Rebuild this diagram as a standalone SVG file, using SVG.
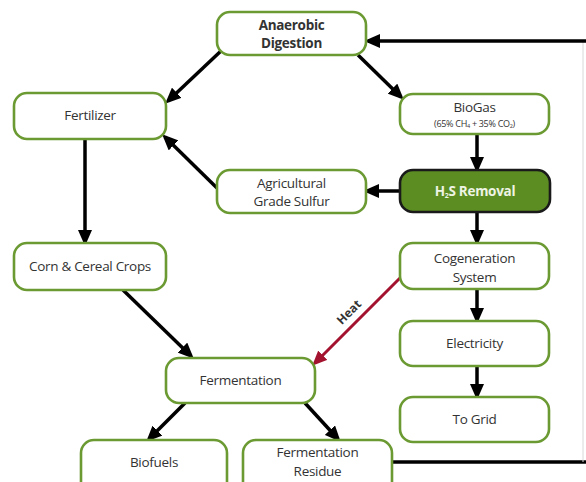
<svg xmlns="http://www.w3.org/2000/svg" width="586" height="482" viewBox="0 0 586 482">
<defs>
<style>
.n{fill:#fff;stroke:#6b9a33;stroke-width:2.6}
.t{font-family:"Open Sans","Noto Sans","Liberation Sans",sans-serif;font-size:13.5px;fill:#333;text-anchor:middle;letter-spacing:-0.3px}
.b{font-weight:bold}
.s{font-size:9px}
.c{fill:none;stroke:#000;stroke-width:3.5}
.a{marker-end:url(#ah)}
</style>
<marker id="ah" markerUnits="userSpaceOnUse" markerWidth="16" markerHeight="14" refX="12" refY="7" orient="auto" viewBox="0 0 16 14">
<path d="M0,0 L16,7 L0,14 z" fill="#000"/>
</marker>
<marker id="ahr" markerUnits="userSpaceOnUse" markerWidth="15" markerHeight="13" refX="11" refY="6.5" orient="auto" viewBox="0 0 15 13">
<path d="M0,0 L15,6.5 L0,13 z" fill="#a3122e"/>
</marker>
</defs>
<rect width="586" height="482" fill="#fff"/>
<g id="connectors">
<path class="c" d="M392 462 H586"/>
<path d="M583 41 V462" stroke="#d8d8d8" stroke-width="1" fill="none"/>
<path class="c a" d="M586 41 H368"/>
<path class="c a" d="M358 55 L401 97"/>
<path class="c a" d="M222 50 L168 101"/>
<path class="c a" d="M217 188 L165 137"/>
<path class="c a" d="M85 139 V242"/>
<path class="c a" d="M477 134 V169"/>
<path class="c a" d="M400 191 H367"/>
<path class="c a" d="M477 212 V242"/>
<path class="c a" d="M477 289 V320"/>
<path class="c a" d="M477 366 V396"/>
<path class="c a" d="M123 290 L191 356"/>
<path class="c a" d="M185 403 L149 439"/>
<path class="c a" d="M305 403 L338 439"/>
<path d="M400 278 L315 363" fill="none" stroke="#a3122e" stroke-width="3" marker-end="url(#ahr)"/>
<text class="t b" transform="translate(352 315) rotate(-45)" style="font-size:12px;letter-spacing:0">Heat</text>
</g>
<g id="ad"><rect class="n" x="217" y="12" width="149" height="43" rx="13"/><text class="t b" x="291.5" y="30">Anaerobic</text><text class="t b" x="291.5" y="48">Digestion</text></g>
<g id="biogas"><rect class="n" x="400" y="94" width="149" height="40" rx="13"/><text class="t" x="474.5" y="112">BioGas</text><text class="t s" x="474.5" y="127">(65% CH<tspan font-size="5.5" dy="1">4</tspan><tspan dy="-1"> + 35% CO</tspan><tspan font-size="5.5" dy="1">2</tspan><tspan dy="-1">)</tspan></text></g>
<g id="fertilizer"><rect class="n" x="14" y="93" width="152" height="46" rx="13"/><text class="t" x="90" y="120">Fertilizer</text></g>
<g id="sulfur"><rect class="n" x="217" y="170" width="149" height="43" rx="13"/><text class="t" x="291.5" y="188">Agricultural</text><text class="t" x="291.5" y="206">Grade Sulfur</text></g>
<g id="h2s"><rect x="400" y="170" width="150" height="42" rx="13" fill="#5b8d22" stroke="#1a1a1a" stroke-width="2.6"/><text class="t b" x="475" y="196" style="fill:#eef4e4">H<tspan font-size="7" dy="2">2</tspan><tspan dy="-2">S Removal</tspan></text></g>
<g id="corn"><rect class="n" x="14" y="243" width="152" height="47" rx="13"/><text class="t" x="90" y="271">Corn &amp; Cereal Crops</text></g>
<g id="cogen"><rect class="n" x="400" y="243" width="149" height="46" rx="13"/><text class="t" x="474.5" y="263">Cogeneration</text><text class="t" x="474.5" y="282">System</text></g>
<g id="electricity"><rect class="n" x="400" y="321" width="149" height="45" rx="13"/><text class="t" x="474.5" y="348">Electricity</text></g>
<g id="grid"><rect class="n" x="400" y="397" width="149" height="45" rx="13"/><text class="t" x="474.5" y="424">To Grid</text></g>
<g id="fermentation"><rect class="n" x="166" y="358" width="149" height="45" rx="13"/><text class="t" x="240.5" y="385">Fermentation</text></g>
<g id="biofuels"><rect class="n" x="81" y="440" width="146" height="60" rx="13"/><text class="t" x="154" y="467">Biofuels</text></g>
<g id="residue"><rect class="n" x="243" y="440" width="149" height="60" rx="13"/><text class="t" x="317.5" y="457">Fermentation</text><text class="t" x="317.5" y="476">Residue</text></g>
</svg>
